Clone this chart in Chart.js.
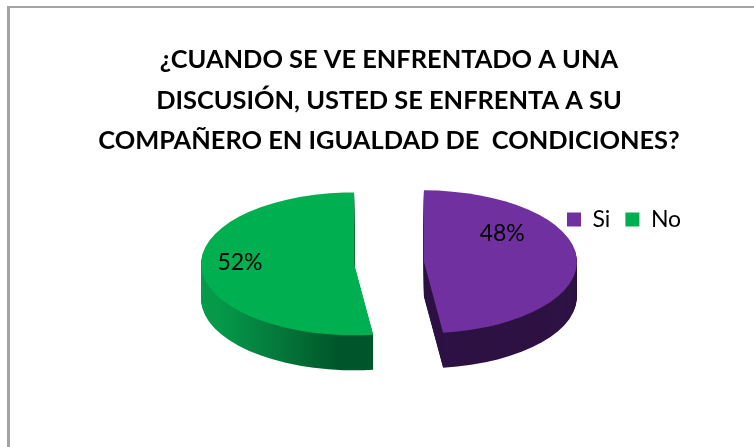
<!DOCTYPE html>
<html>
<head>
<meta charset="utf-8">
<script src="https://cdn.jsdelivr.net/npm/chart.js@4"></script>
<style>
  html, body { margin: 0; padding: 0; background: #fff; overflow: hidden; }
  #frame { position: absolute; left: 7px; top: 6px; right: 0; bottom: 0; border-left: 3px solid #a3a3a3; border-top: 2px solid #a3a3a3; }
  #pie { position: absolute; left: 0; top: 0; }
</style>
</head>
<body>
<div id="frame"></div>
<canvas id="pie" width="754" height="447"></canvas>
<script>
const categories = ['Si', 'No']
const percents = [48, 52]
const titleLines = [
  '¿CUANDO SE VE ENFRENTADO A UNA',
  'DISCUSIÓN, USTED SE ENFRENTA A SU',
  'COMPAÑERO EN IGUALDAD DE  CONDICIONES?'
]
const topColors = ['#7030a0', '#00b050']

// fake 3D: flatten the pie, pull slices apart and stack darker copies below
const squash = 0.467
const depth = 35
const explode = 35
// where the labels sit, relative to the slice middle
const labelAngleShift = [-25, 3.6]
const labelRadiusShare = [0.843, 0.974]

function sideColor(ctx, index, arc) {
  if (index === 0) {
    return '#2e1244'
  }
  const grad = ctx.createLinearGradient(arc.x - arc.outerRadius - explode, 0, arc.x - 17, 0)
  grad.addColorStop(0, '#069c4c')
  grad.addColorStop(0.3, '#059a4a')
  grad.addColorStop(0.65, '#04793a')
  grad.addColorStop(1, '#00562a')
  return grad
}

function drawSlice(ctx, arc, drop) {
  const mid = (arc.startAngle + arc.endAngle) / 2
  ctx.save()
  ctx.translate(0, arc.y + drop)
  ctx.scale(1, squash)
  ctx.translate(Math.cos(mid) * explode, Math.sin(mid) * explode - arc.y)
  arc.draw(ctx)
  ctx.restore()
}

const pie3d = {
  id: 'pie3d',
  beforeDatasetDraw(chart) {
    const ctx = chart.ctx
    const arcs = chart.getDatasetMeta(0).data
    arcs.forEach((arc, i) => {
      const saved = arc.options
      arc.options = { ...saved, backgroundColor: sideColor(ctx, i, arc) }
      for (let d = depth; d > 0; d--) {
        drawSlice(ctx, arc, d)
      }
      arc.options = saved
    })
    arcs.forEach(arc => drawSlice(ctx, arc, 0))
    return false
  },
  afterDatasetsDraw(chart) {
    const ctx = chart.ctx
    const arcs = chart.getDatasetMeta(0).data
    ctx.save()
    ctx.fillStyle = '#000'
    ctx.font = '23px Lato'
    ctx.textAlign = 'center'
    ctx.textBaseline = 'middle'
    arcs.forEach((arc, i) => {
      const mid = (arc.startAngle + arc.endAngle) / 2 + labelAngleShift[i] * Math.PI / 180
      const r = arc.outerRadius * labelRadiusShare[i]
      ctx.fillText(percents[i] + '%', arc.x + Math.cos(mid) * r, arc.y + Math.sin(mid) * r * squash)
    })
    ctx.restore()
  },
  afterLayout(chart) {
    // legend sits beside the purple slice, not in a layout row
    const legend = chart.legend
    const w = legend.width
    const h = legend.height
    legend.left = 552
    legend.right = 552 + w
    legend.top = 193
    legend.bottom = 193 + h
  }
}

new Chart(document.getElementById('pie'), {
  type: 'pie',
  data: {
    labels: categories,
    datasets: [{
      data: percents,
      backgroundColor: topColors,
      borderWidth: 0,
      hoverOffset: 0,
      clip: false
    }]
  },
  options: {
    responsive: false,
    animation: false,
    radius: 153,
    layout: {
      padding: { left: 24, right: 0, top: 39, bottom: 35 }
    },
    plugins: {
      tooltip: { enabled: false },
      title: {
        display: true,
        text: titleLines,
        color: '#000',
        font: { family: 'Lato', weight: 'bold', size: 25.4, lineHeight: 1.61 },
        padding: 0
      },
      legend: {
        position: 'bottom',
        align: 'start',
        fullSize: false,
        labels: {
          boxWidth: 14,
          boxHeight: 14,
          padding: 15,
          color: '#000',
          font: { family: 'Lato', size: 23 }
        }
      }
    }
  },
  plugins: [pie3d]
})
</script>
</body>
</html>
